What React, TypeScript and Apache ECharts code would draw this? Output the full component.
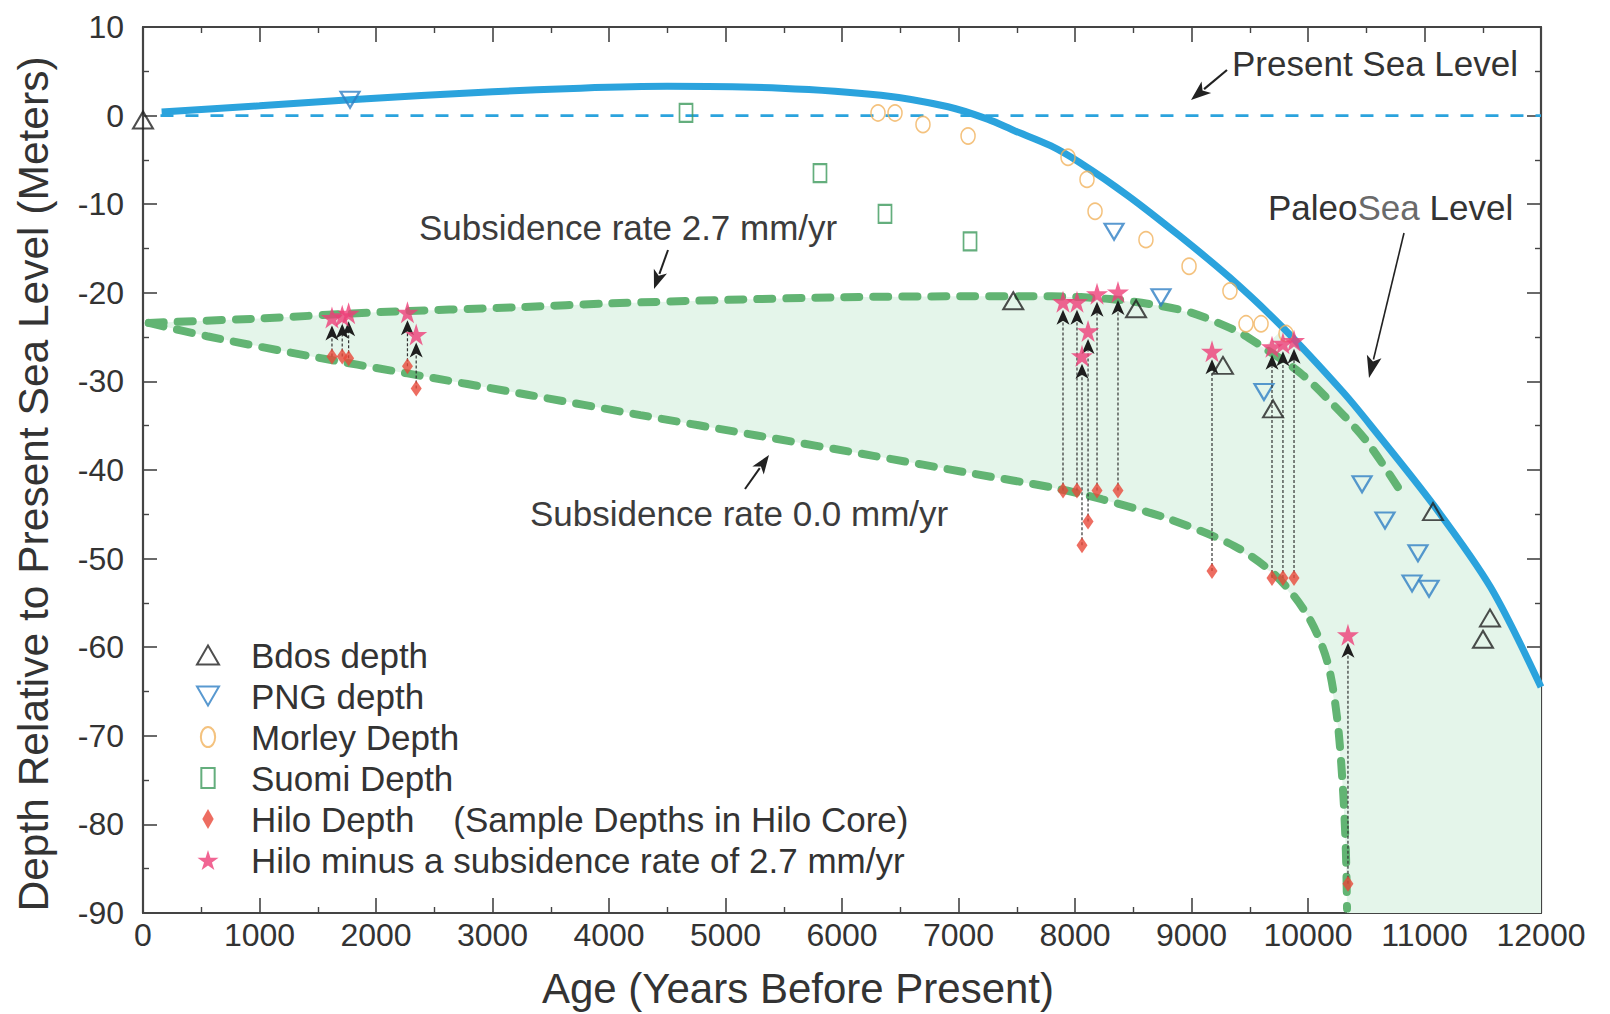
import React, { useEffect, useRef } from 'react';
import * as echarts from 'echarts';

// ---------- data ----------
const xMin = 0, xMax = 12000, xStep = 1000;
const yMin = -90, yMax = 10, yStep = 10;

// Paleo sea level curve (blue solid)
const paleoAge = [160, 1000, 1777, 3000, 3757, 4500, 5476, 6335, 6911, 7250, 7480, 7790, 8040, 8450, 8900, 9330, 9790, 10300, 10540, 11080, 11570, 12000];
const paleoDepth = [0.4, 1.1, 1.8, 2.7, 3.1, 3.3, 3.1, 2.3, 1.0, -0.4, -1.7, -3.4, -5.3, -9.0, -13.6, -18.3, -24.0, -31.2, -35.0, -44.0, -53.3, -64.5];

// Present sea level (blue dashed)
const presentAge = [150, 12000];
const presentDepth = [0, 0];

// Subsidence rate 2.7 mm/yr curve (upper green dashed)
const sub27Age = [50, 1000, 2000, 3260, 4000, 5000, 6000, 7000, 7800, 8300, 8700, 9010, 9400, 9620, 9930, 10200, 10500, 10800];
const sub27Depth = [-23.4, -22.9, -22.2, -21.6, -21.2, -20.8, -20.5, -20.4, -20.4, -20.7, -21.4, -22.3, -24.4, -26.2, -29.0, -32.4, -36.7, -42.5];

// Subsidence rate 0.0 mm/yr curve (lower green dashed)
const sub0Age = [50, 550, 1410, 2270, 3300, 4270, 5270, 6270, 7120, 7810, 8230, 8800, 9370, 9730, 10000, 10163, 10250, 10300, 10325, 10335];
const sub0Depth = [-23.4, -24.9, -27.1, -29.1, -31.5, -33.8, -36.1, -38.4, -40.4, -42.0, -43.3, -45.5, -48.6, -52.0, -56.5, -61.5, -68.0, -76.0, -83.0, -89.5];

// Bdos depth (open triangles)
const bdosAge = [0, 7470, 8524, 9270, 9700, 11073, 11562, 11502];
const bdosDepth = [-0.5, -20.9, -21.8, -28.2, -33.1, -44.7, -56.7, -59.1];

// PNG depth (open inverted triangles)
const pngAge = [1777, 8335, 8738, 9622, 10464, 10661, 10944, 10893, 11039];
const pngDepth = [1.8, -13.1, -20.5, -31.2, -41.6, -45.7, -49.4, -52.8, -53.4];

// Morley depth (open circles)
const morleyAge = [6309, 6455, 6695, 7082, 7940, 8103, 8172, 8609, 8979, 9330, 9468, 9597, 9811];
const morleyDepth = [0.3, 0.3, -1.0, -2.3, -4.7, -7.2, -10.8, -14.0, -17.0, -19.8, -23.5, -23.5, -24.6];

// Suomi depth (open squares)
const suomiAge = [4661, 5811, 6369, 7099];
const suomiDepth = [0.3, -6.5, -11.1, -14.2];

// Hilo core samples: age, sample depth, depth minus 2.7 mm/yr subsidence
const hiloAge = [1622, 1710, 1765, 2270, 2345, 7897, 8017, 8189, 8369, 8112, 8060, 9176, 9691, 9785, 9880, 10343];
const hiloDepth = [-27.2, -27.2, -27.4, -28.3, -30.8, -42.3, -42.3, -42.3, -42.3, -45.8, -48.5, -51.4, -52.2, -52.2, -52.2, -86.7];
const hiloStar = [-22.8, -22.6, -22.3, -22.2, -24.7, -21.0, -21.0, -20.1, -19.9, -24.3, -27.1, -26.6, -26.1, -25.7, -25.4, -58.6];

const seriesNames = [
  'Bdos depth',
  'PNG depth',
  'Morley Depth',
  'Suomi Depth',
  'Hilo Depth\u00A0\u00A0\u00A0\u00A0(Sample Depths in Hilo Core)',
  'Hilo minus a subsidence rate of 2.7 mm/yr',
];

// ---------- styles ----------
const FONT = '"Liberation Sans", Arial, Helvetica, sans-serif';
const TXT = '#333333';
const BLUE = '#2ba3dd';
const GREEN = '#62b473';
const FILL = '#e4f5ea';
const STAR_PATH = 'path://M50,0 L61,35 L98,35 L68,57 L79,91 L50,70 L21,91 L32,57 L2,35 L39,35 Z';
const LEGEND_ICONS = [
  'path://M7,0 L14,12 L0,12 Z',
  'path://M0,0 L14,0 L7,12 Z',
  'path://M0,7 A5,7 0 1,0 10,7 A5,7 0 1,0 0,7 Z',
  'path://M0,0 L10,0 L10,15 L0,15 Z',
  'path://M4,0 L8,7 L4,14 L0,7 Z',
  STAR_PATH,
];

const zip = (a: number[], b: number[]) => a.map((v, i) => [v, b[i]]);

function arrow(x1: number, y1: number, x2: number, y2: number, lw: number, headLen: number, headW: number) {
  const dx = x2 - x1, dy = y2 - y1;
  const L = Math.hypot(dx, dy);
  const ux = dx / L, uy = dy / L;
  const px = -uy, py = ux;
  const bx = x2 - ux * headLen, by = y2 - uy * headLen;
  return [
    { type: 'line', shape: { x1, y1, x2: bx + ux * 3, y2: by + uy * 3 }, style: { stroke: '#222', lineWidth: lw }, z: 100 },
    {
      type: 'polygon',
      shape: {
        points: [
          [x2, y2],
          [bx + (px * headW) / 2, by + (py * headW) / 2],
          [bx + ux * 5, by + uy * 5],
          [bx - (px * headW) / 2, by - (py * headW) / 2],
        ],
      },
      style: { fill: '#222' },
      z: 100,
    },
  ];
}

export default function App() {
  const ref = useRef<HTMLDivElement>(null);

  useEffect(() => {
    if (!ref.current) return;
    const chart = echarts.init(ref.current, undefined, { renderer: 'svg' });

    // fill polygon: upper boundary along 2.7 curve then paleo curve, lower boundary along 0.0 curve
    const upperPart = zip(sub27Age, sub27Depth).filter((p) => p[0] <= 9620);
    const paleoPart = zip(paleoAge, paleoDepth).filter((p) => p[0] >= 9790);
    const lowerPart = zip(sub0Age, sub0Depth);
    const fillPoly = [
      ...upperPart,
      ...paleoPart,
      [xMax, yMin],
      [lowerPart[lowerPart.length - 1][0], yMin],
      ...lowerPart.slice().reverse(),
    ];

    const axisLineStyle = { color: '#444', width: 2.2 };
    const xCommon = {
      type: 'value',
      min: xMin,
      max: xMax,
      interval: xStep,
      splitLine: { show: false },
      axisLine: { show: true, onZero: false, lineStyle: axisLineStyle },
      axisTick: { show: true, inside: true, length: 15, lineStyle: { color: '#444', width: 1.6 } },
      minorTick: { show: true, splitNumber: 2, length: 6, lineStyle: { color: '#444', width: 1.4 } },
    };
    const yCommon = {
      type: 'value',
      min: yMin,
      max: yMax,
      interval: yStep,
      splitLine: { show: false },
      axisLine: { show: true, onZero: false, lineStyle: axisLineStyle },
      axisTick: { show: true, inside: true, length: 14, lineStyle: { color: '#444', width: 1.6 } },
      minorTick: { show: true, splitNumber: 2, length: 6, lineStyle: { color: '#444', width: 1.4 } },
    };

    const option: any = {
      animation: false,
      backgroundColor: '#ffffff',
      textStyle: { fontFamily: FONT },
      grid: { left: 143, right: 69, top: 27, bottom: 97, containLabel: false },
      xAxis: [
        {
          ...xCommon,
          position: 'bottom',
          name: 'Age (Years Before Present)',
          nameLocation: 'middle',
          nameGap: 54,
          nameTextStyle: { fontSize: 42, color: TXT, fontFamily: FONT, padding: [0, 88, 0, 0] },
          axisLabel: { fontSize: 32, color: TXT, fontFamily: FONT, margin: 6, formatter: (v: number) => String(v) },
        },
        { ...xCommon, position: 'top', axisLabel: { show: false } },
      ],
      yAxis: [
        {
          ...yCommon,
          position: 'left',
          name: 'Depth Relative to Present Sea Level (Meters)',
          nameLocation: 'middle',
          nameGap: 88,
          nameRotate: 90,
          nameTextStyle: { fontSize: 42.5, color: TXT, fontFamily: FONT, padding: [0, 28, 0, 0] },
          axisLabel: { fontSize: 32, color: TXT, fontFamily: FONT, margin: 19, formatter: (v: number) => String(v) },
        },
        { ...yCommon, position: 'right', axisLabel: { show: false } },
      ],
      legend: {
        show: true,
        orient: 'vertical',
        left: 196,
        top: 637.5,
        padding: 0,
        itemWidth: 22,
        itemHeight: 20,
        itemGap: 6,
        symbolKeepAspect: true,
        data: seriesNames.map((n, i) => ({ name: n, icon: LEGEND_ICONS[i] })),
        selectedMode: false,
        textStyle: { fontSize: 35, color: TXT, fontFamily: FONT, lineHeight: 34, padding: [0, 0, 0, 27] },
      },
      graphic: [
        {
          type: 'text',
          x: 1232,
          y: 63,
          style: { text: 'Present Sea Level', fontSize: 35, fontFamily: FONT, fill: TXT, verticalAlign: 'middle' },
          z: 100,
        },
        ...arrow(1227, 70, 1191, 100, 2.2, 20, 15),
        {
          type: 'text',
          x: 1268,
          y: 207,
          style: {
            text: '{a|Paleo}{b|Sea}{a| Level}',
            verticalAlign: 'middle',
            rich: {
              a: { fontSize: 35, fontFamily: FONT, fill: TXT },
              b: { fontSize: 35, fontFamily: FONT, fill: '#6a6a6a' },
            },
          },
          z: 100,
        },
        ...arrow(1404, 233, 1369, 378, 1.6, 22, 15),
        {
          type: 'text',
          x: 419,
          y: 227,
          style: { text: 'Subsidence rate 2.7 mm/yr', fontSize: 35, fontFamily: FONT, fill: '#3c3c3c', verticalAlign: 'middle' },
          z: 100,
        },
        ...arrow(668, 250, 654, 289, 2, 19, 14),
        {
          type: 'text',
          x: 530,
          y: 513,
          style: { text: 'Subsidence rate 0.0 mm/yr', fontSize: 35, fontFamily: FONT, fill: '#3c3c3c', verticalAlign: 'middle' },
          z: 100,
        },
        ...arrow(745, 489, 769, 455, 2, 19, 14),
      ],
      series: [
        {
          name: 'fill',
          type: 'custom',
          silent: true,
          clip: true,
          z: 1,
          data: [[xMin, yMin]],
          renderItem: (_params: any, api: any) => {
            const pts = fillPoly.map((p) => api.coord(p));
            return { type: 'polygon', shape: { points: pts, smooth: 0 }, style: { fill: FILL } };
          },
        },
        {
          name: 'Present Sea Level',
          type: 'line',
          data: zip(presentAge, presentDepth),
          symbol: 'none',
          lineStyle: { color: BLUE, width: 2.6, type: [13, 12] },
          z: 2,
          silent: true,
        },
        {
          name: 'Subsidence rate 2.7 mm/yr',
          type: 'line',
          data: zip(sub27Age, sub27Depth),
          smooth: 0.3,
          symbol: 'none',
          lineStyle: { color: GREEN, width: 8, type: [15, 14], cap: 'round' },
          z: 3,
          silent: true,
        },
        {
          name: 'Subsidence rate 0.0 mm/yr',
          type: 'line',
          data: zip(sub0Age, sub0Depth),
          smooth: 0.3,
          symbol: 'none',
          lineStyle: { color: GREEN, width: 8, type: [15, 14], cap: 'round' },
          z: 3,
          silent: true,
        },
        {
          name: 'PaleoSea Level',
          type: 'line',
          data: zip(paleoAge, paleoDepth),
          smooth: 0.3,
          symbol: 'none',
          lineStyle: { color: BLUE, width: 7 },
          z: 4,
          silent: true,
        },
        {
          name: seriesNames[0],
          type: 'scatter',
          data: zip(bdosAge, bdosDepth),
          symbol: 'triangle',
          symbolSize: [20, 17],
          itemStyle: { color: 'rgba(0,0,0,0)', borderColor: '#222', borderWidth: 2 },
          z: 5,
        },
        {
          name: seriesNames[1],
          type: 'scatter',
          data: zip(pngAge, pngDepth),
          symbol: 'triangle',
          symbolRotate: 180,
          symbolSize: [19, 16],
          itemStyle: { color: 'rgba(0,0,0,0)', borderColor: '#2f7fc4', borderWidth: 2.2 },
          z: 5,
        },
        {
          name: seriesNames[2],
          type: 'scatter',
          data: zip(morleyAge, morleyDepth),
          symbol: 'circle',
          symbolSize: [14, 16],
          itemStyle: { color: 'rgba(0,0,0,0)', borderColor: '#f1b35e', borderWidth: 1.6 },
          z: 5,
        },
        {
          name: seriesNames[3],
          type: 'scatter',
          data: zip(suomiAge, suomiDepth),
          symbol: 'rect',
          symbolSize: [13, 18],
          itemStyle: { color: 'rgba(0,0,0,0)', borderColor: '#3d9a5c', borderWidth: 2 },
          z: 5,
        },
        {
          name: 'Hilo arrows',
          type: 'custom',
          z: 6,
          silent: true,
          data: hiloAge.map((a, i) => [a, hiloDepth[i], hiloStar[i]]),
          encode: { x: 0, y: [1, 2] },
          renderItem: (_params: any, api: any) => {
            const x = api.value(0), yd = api.value(1), ys = api.value(2);
            const pd = api.coord([x, yd]);
            const ps = api.coord([x, ys]);
            const tipY = ps[1] + 8;
            return {
              type: 'group',
              children: [
                {
                  type: 'line',
                  shape: { x1: pd[0], y1: pd[1], x2: pd[0], y2: tipY + 10 },
                  style: { stroke: '#333', lineWidth: 1.2, lineDash: [3, 2] },
                },
                {
                  type: 'polygon',
                  shape: { points: [[ps[0], tipY], [ps[0] - 6.5, tipY + 15], [ps[0], tipY + 11], [ps[0] + 6.5, tipY + 15]] },
                  style: { fill: '#1e1e1e' },
                },
              ],
            };
          },
        },
        {
          name: seriesNames[4],
          type: 'scatter',
          data: zip(hiloAge, hiloDepth),
          symbol: 'diamond',
          symbolSize: [11, 16],
          itemStyle: { color: '#e8483a' },
          z: 7,
        },
        {
          name: seriesNames[5],
          type: 'scatter',
          data: zip(hiloAge, hiloStar),
          symbol: STAR_PATH,
          symbolSize: 22,
          itemStyle: { color: '#ee3f78' },
          z: 8,
        },
      ],
    };

    chart.setOption(option);
    return () => chart.dispose();
  }, []);

  return (
    <div
      ref={ref}
      style={{ position: 'fixed', left: 0, top: 0, width: '1610px', height: '1014px', background: '#fff' }}
    />
  );
}
